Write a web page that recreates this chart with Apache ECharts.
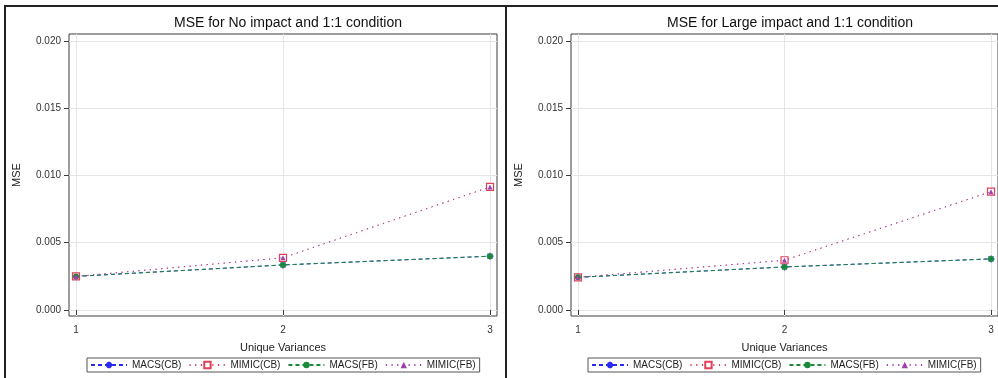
<!DOCTYPE html>
<html>
<head>
<meta charset="utf-8">
<script src="https://cdn.jsdelivr.net/npm/echarts@6/dist/echarts.min.js"></script>
<style>
html,body{margin:0;padding:0;background:#fff;}
#chart{width:998px;height:378px;}
</style>
</head>
<body>
<div id="chart"></div>
<script>
// ---- data ----
const xValues = [1, 2, 3];
const yTicks = [0, 0.005, 0.010, 0.015, 0.020];
const seriesNames = ['MACS(CB)', 'MIMIC(CB)', 'MACS(FB)', 'MIMIC(FB)'];
const titles = ['MSE for No impact and 1:1 condition', 'MSE for Large impact and 1:1 condition'];
// No impact panel
const noMacsCB  = [0.0025, 0.00335, 0.0040];
const noMimicCB = [0.0025, 0.00388, 0.00915];
const noMacsFB  = [0.0025, 0.00335, 0.0040];
const noMimicFB = [0.0025, 0.00388, 0.00915];
// Large impact panel
const lgMacsCB  = [0.00243, 0.0032, 0.0038];
const lgMimicCB = [0.00243, 0.0037, 0.0088];
const lgMacsFB  = [0.00243, 0.0032, 0.0038];
const lgMimicFB = [0.00243, 0.0037, 0.0088];

const panels = [
  [noMacsCB, noMimicCB, noMacsFB, noMimicFB],
  [lgMacsCB, lgMimicCB, lgMacsFB, lgMimicFB]
];

const FONT = '"Liberation Sans", Arial, sans-serif';
const frameColor = '#3c3c3c';
const gridColor = '#e6e6e6';

const asterisk = 'path://M5,0L5,10M0,5L10,5M1.5,1.5L8.5,8.5M1.5,8.5L8.5,1.5';
const styles = [
  {color: '#2a2af0', type: [4, 3], symbol: asterisk, size: 7, fill: 'transparent', border: 1.2},
  {color: '#e0405a', type: [1.2, 4.5], symbol: 'rect', size: 7, fill: '#ffffff', border: 1.2},
  {color: '#1a8a3a', type: [4, 3], symbol: 'circle', size: 6, fill: '#1a8a3a', border: 0},
  {color: '#a040b0', type: [1.2, 4.5], symbol: 'triangle', size: 5, fill: '#a040b0', border: 0}
];

const gridLefts = [69, 571];
const grids = [], xAxes = [], yAxes = [], series = [], titleOpts = [], legends = [];
panels.forEach((vals, p) => {
  const left = gridLefts[p];
  grids.push({left: left, top: 34, width: 428, height: 282, show: true,
    borderColor: frameColor, borderWidth: 1, backgroundColor: 'transparent', containLabel: false});
  xAxes.push({type: 'value', gridIndex: p, min: 0.9662, max: 3.0338,
    name: 'Unique Variances', nameLocation: 'middle', nameGap: 26,
    nameTextStyle: {fontFamily: FONT, fontSize: 11, color: '#222'},
    axisLine: {show: false},
    axisTick: {show: true, length: 5, lineStyle: {color: frameColor}, customValues: xValues},
    axisLabel: {fontFamily: FONT, fontSize: 10, color: '#333', margin: 9, customValues: xValues,
      formatter: v => String(v)},
    splitLine: {show: true, lineStyle: {color: gridColor, width: 1}}
  });
  yAxes.push({type: 'value', gridIndex: p, min: -0.000446, max: 0.02052,
    name: 'MSE', nameLocation: 'middle', nameGap: 47, nameRotate: 90,
    nameTextStyle: {fontFamily: FONT, fontSize: 11, color: '#222'},
    axisLine: {show: false},
    axisTick: {show: true, length: 5, lineStyle: {color: frameColor}, customValues: yTicks},
    axisLabel: {fontFamily: FONT, fontSize: 10, color: '#333', margin: 8, customValues: yTicks,
      formatter: v => v.toFixed(3)},
    splitLine: {show: true, lineStyle: {color: gridColor, width: 1}}
  });
  titleOpts.push({text: titles[p], left: left + 214, top: 11, textAlign: 'center',
    textStyle: {fontFamily: FONT, fontSize: 14, fontWeight: 'normal', color: '#111'}});
  legends.push({data: seriesNames, left: p === 0 ? 87 : 588, top: 358,
    orient: 'horizontal', itemWidth: 36, itemHeight: 8, itemGap: 7,
    borderColor: '#555', borderWidth: 1, padding: [2, 4, 2, 3], borderRadius: 0,
    textStyle: {fontFamily: FONT, fontSize: 10, color: '#222'}});
  vals.forEach((arr, s) => {
    const st = styles[s];
    series.push({
      name: seriesNames[s], type: 'line', xAxisIndex: p, yAxisIndex: p,
      data: xValues.map((x, i) => [x, arr[i]]),
      symbol: st.symbol, symbolSize: st.size, showSymbol: true,
      lineStyle: {color: st.color, width: 1, type: st.type},
      itemStyle: {color: st.fill, borderColor: st.color, borderWidth: st.border},
      color: st.color,
      animation: false, silent: true, z: 2 + s
    });
  });
});

const chart = echarts.init(document.getElementById('chart'), null, {renderer: 'canvas'});
chart.setOption({
  animation: false,
  backgroundColor: '#ffffff',
  title: titleOpts,
  legend: legends,
  grid: grids,
  xAxis: xAxes,
  yAxis: yAxes,
  series: series,
  graphic: [
    {type: 'rect', shape: {x: 5, y: 6, width: 1000, height: 400}, style: {fill: 'none', stroke: '#222', lineWidth: 2}, silent: true, z: 100},
    {type: 'line', shape: {x1: 506, y1: 6, x2: 506, y2: 378}, style: {stroke: '#222', lineWidth: 2}, silent: true, z: 100}
  ]
});
</script>
</body>
</html>
